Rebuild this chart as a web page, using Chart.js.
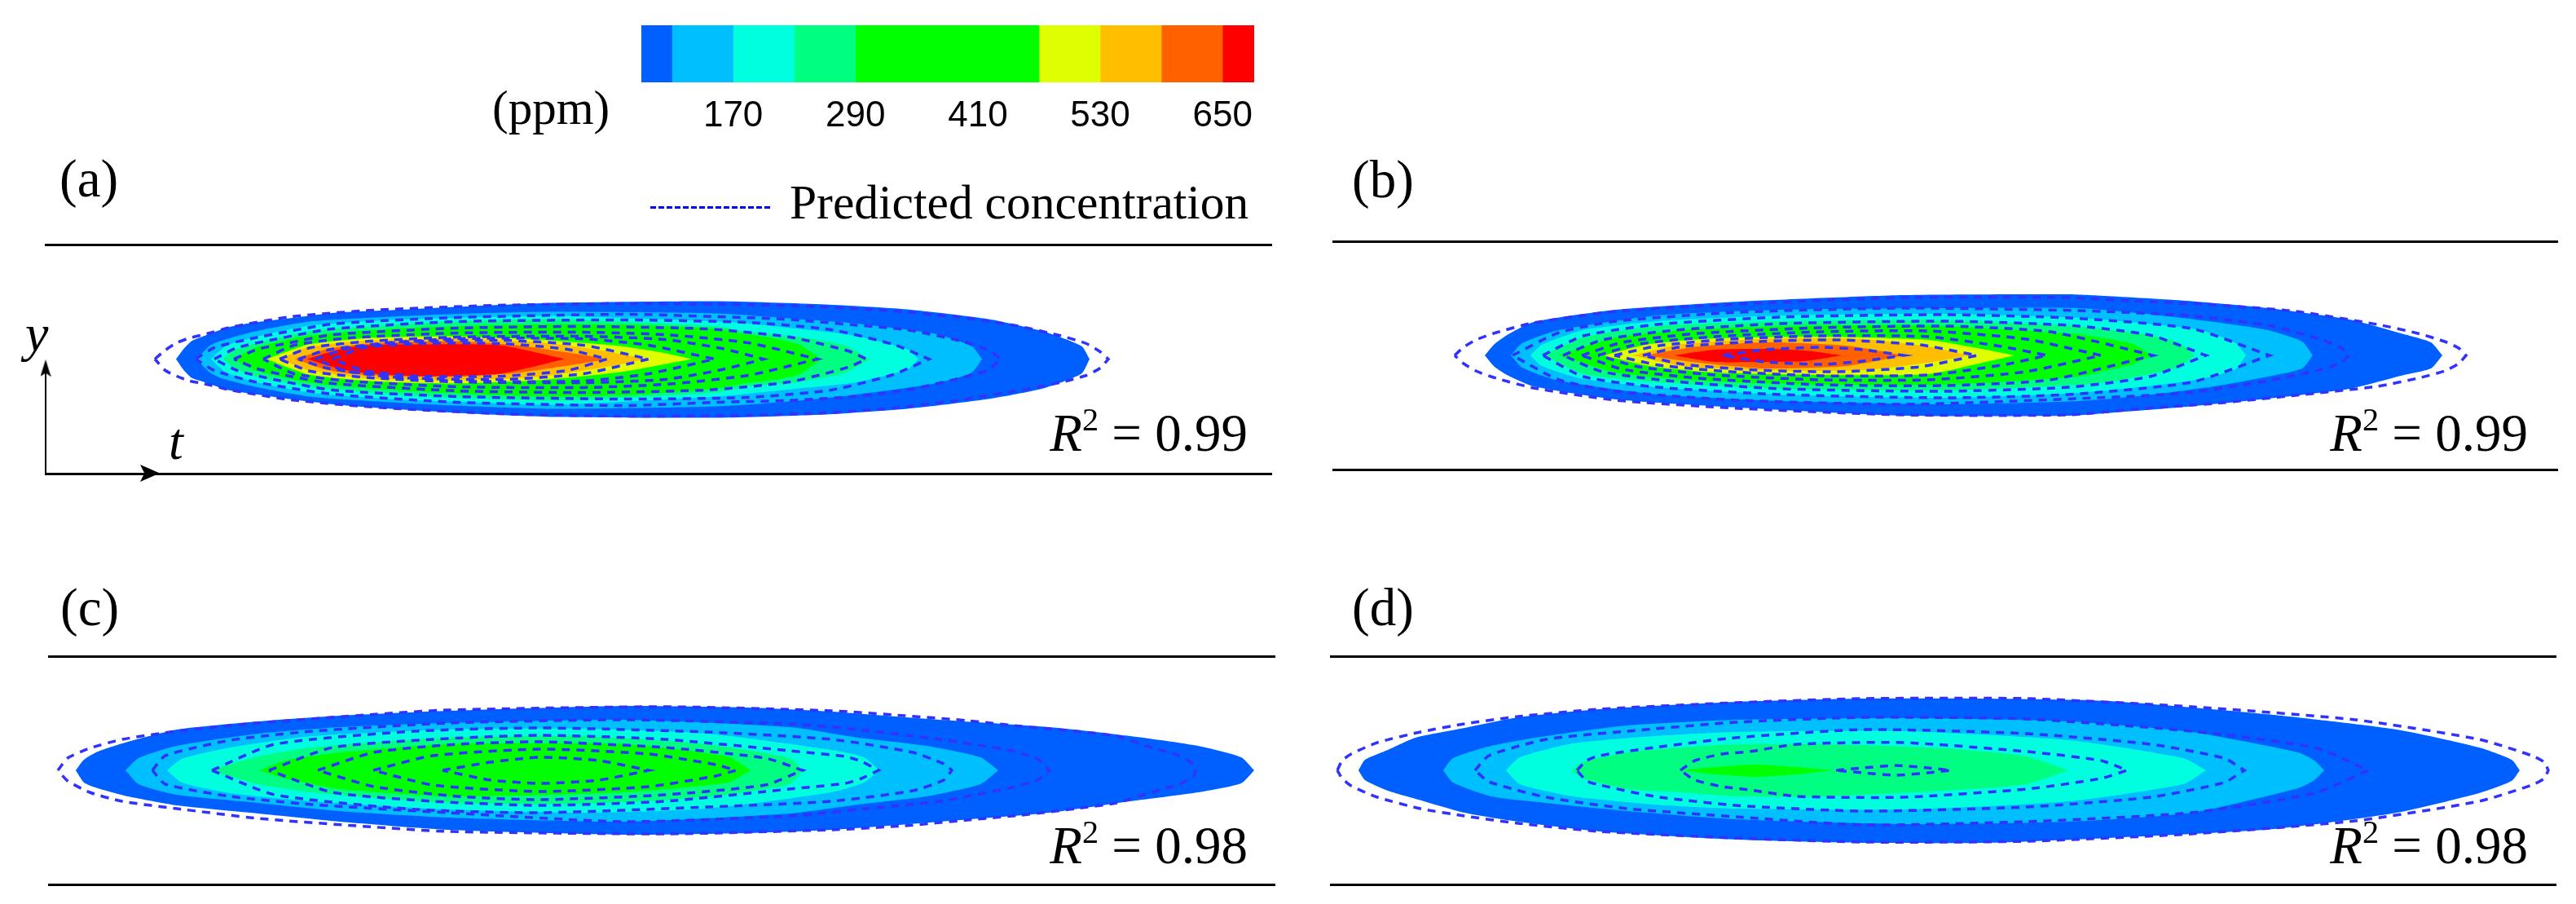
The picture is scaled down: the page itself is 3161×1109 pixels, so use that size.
<!DOCTYPE html>
<html>
<head>
<meta charset="utf-8">
<title>Predicted concentration</title>
<script src="https://cdn.jsdelivr.net/npm/chart.js@4"></script>
<style>
  html, body { margin: 0; background: #fff; }
  #page { position: relative; width: 3161px; height: 1109px; overflow: hidden; }
  canvas { position: absolute; }
  .lbl { position: absolute; font-family: "Liberation Serif", serif; line-height: 1; color: #000; white-space: nowrap; }
  .lbl i { font-style: italic; }
  .lbl sup { font-size: .62em; line-height: 0; vertical-align: .62em; }
  #legendDash { position: absolute; left: 798px; top: 253px; width: 148px; height: 3px;
    background: repeating-linear-gradient(90deg, #0000ff 0 7px, transparent 7px 10px); }
</style>
</head>
<body>
<div id="page">
  <canvas id="bar" style="left:747px;top:21px" width="832" height="150"></canvas>
  <canvas id="pa"></canvas><canvas id="pb"></canvas><canvas id="pc"></canvas><canvas id="pd"></canvas>

  <div class="lbl" style="left:604px;top:103px;font-size:59px">(ppm)</div>
  <div class="lbl" style="left:73px;top:187px;font-size:65px">(a)</div>
  <div class="lbl" style="left:1659px;top:188px;font-size:65px">(b)</div>
  <div class="lbl" style="left:74px;top:713px;font-size:65px">(c)</div>
  <div class="lbl" style="left:1659px;top:713px;font-size:65px">(d)</div>
  <div id="legendDash"></div>
  <div class="lbl" style="left:969px;top:219px;font-size:59.5px">Predicted concentration</div>
  <div class="lbl" style="right:1630px;top:499px;font-size:65px"><i>R</i><sup>2</sup> = 0.99</div>
  <div class="lbl" style="right:59px;top:499px;font-size:65px"><i>R</i><sup>2</sup> = 0.99</div>
  <div class="lbl" style="right:1630px;top:1005px;font-size:65px"><i>R</i><sup>2</sup> = 0.98</div>
  <div class="lbl" style="right:59px;top:1005px;font-size:65px"><i>R</i><sup>2</sup> = 0.98</div>
  <div class="lbl" style="left:31px;top:377px;font-size:64px"><i>y</i></div>
  <div class="lbl" style="left:207px;top:510px;font-size:64px"><i>t</i></div>
</div>

<script>
// colour bar (ppm)
const barEdges  = [80, 110, 170, 230, 290, 470, 530, 590, 650, 681];
const barColors = ["#0060ff", "#00bfff", "#00ffdf", "#00ff80", "#00ff00", "#dfff00", "#ffbf00", "#ff6000", "#ff0000"];
const barTicks  = [170, 290, 410, 530, 650];

// contours: [t stations, upper edge, lower edge], t along the plume, y off the centre line
// panel (a), measured fields
const aFill1 = [[160,169,179,191,224,257,291,357,424,524,624,824,957,1057,1157,1224,1271,1281], [0,12,22,27,39,45,49,57,60,65,69,71,67,61,49,34,16,0], [0,-13,-23,-27,-38,-43,-48,-56,-61,-67,-71,-72,-68,-61,-49,-36,-18,0]];
const aFill2 = [[185,201,214,257,324,424,524,624,824,924,991,1091,1136,1149], [0,16,22,34,46,52,56,58,56,49,44,31,16,0], [0,-16,-23,-34,-46,-53,-58,-61,-58,-51,-44,-30,-17,0]];
const aFill3 = [[203,221,257,324,424,524,624,824,857,924,991,1057,1071], [0,16,27,41,48,51,53,46,44,37,29,12,0], [0,-16,-28,-41,-49,-53,-56,-46,-43,-36,-29,-13,0]];
const aFill4 = [[218,231,257,324,424,524,624,824,857,924,981,1011], [0,11,19,34,42,47,49,40,34,27,17,0], [0,-11,-21,-34,-43,-48,-51,-41,-34,-28,-17,0]];
const aFill5 = [[231,257,324,424,524,624,724,824,857,891,924,952], [0,14,29,37,41,43,42,37,31,26,18,0], [0,-14,-29,-38,-43,-46,-44,-36,-30,-26,-19,0]];
const aFill6 = [[271,323,399,501,603,705,756,793], [0,18,26,28,24,16,8,0], [0,-19,-27,-30,-26,-16,-7,0]];
const aFill7 = [[287,323,399,501,603,680,738], [0,15,23,25,21,11,0], [0,-14,-24,-26,-22,-11,0]];
const aFill8 = [[306,348,399,501,578,654,690], [0,13,19,22,17,6,0], [0,-14,-20,-22,-17,-6,0]];
const aFill9 = [[321,357,391,457,557,637], [0,11,17,18,17,0], [0,-11,-17,-21,-18,0]];
// panel (a), predicted
const aLine1 = [[134,147,161,177,194,227,301,403,556,709,857,957,1041,1124,1191,1244,1277,1294,1304], [0,11,20,26,30,39,52,60,66,68,67,64,59,51,41,29,19,9,0], [0,-14,-21,-27,-30,-38,-50,-59,-67,-70,-69,-66,-60,-50,-39,-29,-20,-11,0]];
const aLine2 = [[184,207,257,352,505,709,824,907,991,1057,1124,1157,1172], [0,14,26,43,51,55,52,49,42,36,22,11,0], [0,-14,-28,-43,-53,-57,-53,-51,-46,-38,-23,-13,0]];
const aLine3 = [[207,235,280,352,505,709,862,964,1040,1084], [0,14,24,37,46,48,45,36,18,0], [0,-14,-25,-38,-46,-49,-47,-38,-19,0]];
const aLine4 = [[231,260,300,352,505,658,811,913,985,1007], [0,12,20,30,38,40,37,27,10,0], [0,-12,-21,-30,-39,-41,-38,-28,-10,0]];
const aLine5 = [[267,305,373,505,658,760,862,947], [0,17,26,32,33,30,20,0], [0,-18,-27,-34,-35,-31,-20,0]];
const aLine6 = [[287,325,399,505,658,760,830,881], [0,14,22,27,28,24,13,0], [0,-15,-23,-28,-29,-25,-13,0]];
const aLine7 = [[310,345,420,505,658,740,821], [0,11,20,25,25,17,0], [0,-11,-21,-27,-27,-18,0]];
const aLine8 = [[331,370,440,560,660,740], [0,13,21,23,17,0], [0,-15,-23,-25,-18,0]];
const aLine9 = [[352,390,460,560,640,689], [0,14,19,19,12,0], [0,-14,-21,-21,-14,0]];

// panel (b)
const bFill1 = [[186,198,215,246,347,498,700,902,947,1047,1147,1247,1314,1347,1361], [0,14,26,41,56,66,74,75,73,67,58,44,26,16,0], [0,-14,-25,-38,-54,-64,-74,-74,-71,-63,-53,-41,-24,-16,0]];
const bFill2 = [[218,232,277,398,549,750,914,997,1081,1147,1189,1202], [0,15,31,49,56,58,58,51,41,31,17,0], [0,-15,-31,-48,-56,-60,-56,-49,-38,-26,-16,0]];
const bFill3 = [[242,256,307,398,549,750,914,997,1064,1107,1120], [0,13,31,42,49,51,46,39,31,15,0], [0,-13,-29,-39,-48,-52,-46,-38,-29,-17,0]];
const bFill4 = [[258,307,398,549,750,914,947,997,1037,1057], [0,22,36,42,43,36,32,26,16,0], [0,-23,-33,-41,-43,-36,-33,-24,-14,0]];
const bFill5 = [[277,347,448,599,750,914,947,981,1004], [0,22,32,37,36,26,21,14,0], [0,-21,-31,-36,-36,-26,-19,-11,0]];
const bFill6 = [[332,388,468,599,730,801,836], [0,14,21,23,19,7,0], [0,-13,-21,-24,-23,-8,0]];
const bFill7 = [[367,428,549,650,730,781], [0,14,21,20,11,0], [0,-13,-19,-18,-9,0]];
const bFill8 = [[382,448,529,630,700], [0,11,16,12,0], [0,-9,-16,-13,0]];
const bFill9 = [[418,468,529,579,624], [0,7,8,6,0], [0,-8,-8,-7,0]];
const bLine1 = [[149,160,175,200,246,347,498,700,902,981,1081,1181,1281,1331,1364,1381,1390], [0,10,19,28,40,54,63,71,71,67,62,54,38,27,17,9,0], [0,-10,-19,-28,-40,-55,-65,-73,-73,-66,-59,-49,-38,-28,-19,-10,0]];
const bLine2 = [[220,277,347,498,700,914,1047,1147,1214,1237,1246], [0,28,42,53,58,55,49,37,19,9,0], [0,-30,-44,-55,-60,-53,-46,-31,-17,-9,0]];
const bLine3 = [[257,307,398,549,750,902,1053,1149], [0,24,38,47,50,46,33,0], [0,-26,-39,-48,-52,-48,-33,0]];
const bLine4 = [[282,330,420,549,750,902,1002,1071], [0,19,31,39,42,37,25,0], [0,-20,-32,-41,-44,-39,-26,0]];
const bLine5 = [[305,355,448,599,750,880,1006], [0,16,27,34,36,29,0], [0,-17,-28,-36,-37,-30,0]];
const bLine6 = [[325,375,468,599,730,850,942], [0,14,23,29,30,20,0], [0,-14,-24,-30,-30,-20,0]];
const bLine7 = [[345,400,488,599,730,820,876], [0,12,20,24,23,11,0], [0,-12,-20,-25,-24,-12,0]];
const bLine8 = [[380,430,520,620,720,790], [0,11,17,19,13,0], [0,-11,-18,-20,-14,0]];
const bLine9 = [[478,529,600,650,700], [0,7,10,7,0], [0,-8,-11,-7,0]];

// panel (c)
const cFill1 = [[33,43,60,97,157,257,357,490,705,858,960,1093,1227,1327,1410,1463,1479], [0,13,23,35,50,60,67,73,79,77,72,62,53,42,30,16,0], [0,-15,-22,-32,-43,-53,-63,-73,-79,-77,-73,-63,-52,-38,-27,-16,0]];
const cFill2 = [[94,110,157,257,357,490,705,909,993,1077,1143,1165], [0,15,30,45,53,58,62,53,40,30,16,0], [0,-17,-30,-40,-50,-58,-63,-53,-42,-32,-17,0]];
const cFill3 = [[145,163,223,323,490,654,807,960,1000,1019], [0,14,28,42,50,51,45,25,16,0], [0,-15,-28,-38,-48,-52,-47,-27,-15,0]];
const cFill4 = [[198,257,323,490,654,807,909,925], [0,17,28,40,42,32,15,0], [0,-17,-27,-40,-41,-33,-17,0]];
const cFill5 = [[258,290,357,490,705,833,861], [0,12,22,32,32,17,0], [0,-10,-23,-32,-27,-15,0]];
const cLine1 = [[11,23,50,90,157,257,390,490,756,960,1050,1127,1193,1260,1310,1353,1387,1405,1407], [0,15,27,38,48,58,68,74,78,73,67,61,54,48,42,28,18,7,0], [0,-13,-27,-38,-47,-59,-69,-75,-78,-73,-68,-61,-55,-47,-40,-27,-17,-7,0]];
const cLine2 = [[127,143,223,323,490,705,909,993,1093,1177,1213,1228], [0,18,37,48,58,62,57,50,38,25,14,0], [0,-17,-32,-42,-52,-63,-56,-48,-38,-22,-12,0]];
const cLine3 = [[200,277,450,603,807,960,1060,1098,1108], [0,32,48,52,47,38,22,8,0], [0,-30,-48,-52,-45,-38,-25,-12,0]];
const cLine4 = [[270,348,471,603,756,909,977,997,1018], [0,28,38,43,38,24,17,11,0], [0,-27,-38,-43,-38,-23,-16,-10,0]];
const cLine5 = [[330,399,501,603,756,879,925], [0,22,32,35,28,15,0], [0,-20,-32,-36,-30,-18,0]];
const cLine6 = [[398,471,603,736,818,843], [0,18,26,20,7,0], [0,-18,-26,-20,-7,0]];
const cLine7 = [[483,542,603,675,736], [0,10,16,12,0], [0,-12,-16,-12,0]];

// panel (d)
const dFill1 = [[34,42,70,104,164,230,330,497,653,804,955,1157,1308,1409,1449,1459], [0,13,25,40,52,65,75,84,88,88,85,68,50,28,13,0], [0,-12,-25,-35,-52,-63,-75,-85,-89,-89,-83,-72,-52,-28,-13,0]];
const dFill2 = [[138,150,197,264,364,497,703,905,1056,1187,1207,1219], [0,15,30,42,55,62,64,60,47,22,12,0], [0,-15,-32,-40,-50,-60,-66,-63,-52,-22,-12,0]];
const dFill3 = [[215,232,297,397,497,703,905,1046,1074], [0,16,33,42,47,48,37,15,0], [0,-17,-32,-42,-47,-48,-38,-17,0]];
const dFill4 = [[295,310,364,430,497,602,753,854,905], [0,10,22,28,32,32,27,17,0], [0,-10,-23,-27,-32,-32,-25,-17,0]];
const dFill5 = [[431,471,522,572,617], [0,4,7,4,0], [0,-5,-8,-5,0]];
const dLine1 = [[8,14,25,57,110,164,230,330,497,653,854,1056,1257,1409,1474,1489,1494], [0,12,20,34,47,57,66,75,83,88,88,78,62,38,18,10,0], [0,-10,-19,-33,-47,-56,-65,-75,-83,-88,-87,-78,-62,-38,-18,-10,0]];
const dLine2 = [[177,194,264,364,497,653,854,1056,1207,1273], [0,18,38,48,59,65,63,48,28,0], [0,-14,-33,-47,-57,-67,-63,-52,-28,0]];
const dLine3 = [[302,314,330,397,497,653,854,1006,1096,1121], [0,12,18,28,40,50,45,32,15,0], [0,-13,-18,-32,-43,-50,-45,-33,-15,0]];
const dLine4 = [[429,447,480,514,572,703,854,945,977], [0,12,20,23,32,34,23,12,0], [0,-12,-20,-24,-32,-33,-23,-10,0]];
const dLine5 = [[620,653,693,733,761], [0,3,6,3,0], [0,-3,-6,-3,0]];

// t and y axis arrows, panel (a)
const yArrowLine = [[0, -140], [0, -12]];
const yArrowTip  = [[0, -11]];
const tArrowTip  = [[128, -140]];

const dashColor = "#3232ff";

// upper edge left to right, lower edge back; the tip is doubled so it stays sharp
function outline(c) {
  const [t, up, lo] = c;
  const pts = t.map((v, i) => ({ x: v, y: up[i] }));
  pts.push({ x: t[t.length - 1], y: lo[t.length - 1] });
  for (let i = t.length - 2; i >= 0; i--) pts.push({ x: t[i], y: lo[i] });
  return pts;
}

// barbed arrow head, pointing up, used as a point style
function headStyle(w, h) {
  const c = document.createElement("canvas");
  c.width = w; c.height = h;
  const g = c.getContext("2d");
  g.fillStyle = "#000";
  g.beginPath();
  g.moveTo(w / 2, 0); g.lineTo(w, h); g.lineTo(w / 2, h * .78); g.lineTo(0, h);
  g.closePath(); g.fill();
  return c;
}

function panel(id, left, top, w, h, fills, lines, extra) {
  const pad = 16;
  const el = document.getElementById(id);
  el.width = w + pad * 2; el.height = h + pad * 2;
  el.style.left = (left - pad) + "px"; el.style.top = (top - pad) + "px";
  const ds = [];
  fills.forEach((c, i) => ds.push({ data: outline(c), showLine: true, fill: "shape", backgroundColor: barColors[i], borderWidth: 0, pointRadius: 0, tension: .2 }));
  lines.forEach((c) => ds.push({ data: outline(c), showLine: true, fill: false, borderColor: dashColor, borderWidth: 3.5, borderDash: [10, 8], pointRadius: 0, tension: .2 }));
  (extra || []).forEach((e) => ds.push(e));
  ds.forEach((d, i) => { d.order = -i; });
  const rule = { display: true, grid: { display: false, drawTicks: false }, ticks: { display: false }, border: { color: "#000", width: 3 } };
  new Chart(el, {
    type: "scatter",
    data: { datasets: ds },
    options: {
      responsive: false, animation: false, devicePixelRatio: 1,
      layout: { padding: pad },
      plugins: { legend: { display: false }, tooltip: { enabled: false } },
      scales: {
        x: { type: "linear", min: 0, max: w, position: "bottom", ...rule },
        xTop: { type: "linear", axis: "x", min: 0, max: w, position: "top", ...rule },
        y: { type: "linear", min: -h / 2, max: h / 2, display: false }
      }
    }
  });
}

function pts(list) { return list.map((p) => ({ x: p[0], y: p[1] })); }
const arrows = [
  { data: pts(yArrowLine), showLine: true, fill: false, borderColor: "#000", borderWidth: 2, pointRadius: 0, clip: false },
  { data: pts(yArrowTip), showLine: false, pointStyle: headStyle(13, 21), pointRadius: 10, clip: false },
  { data: pts(tArrowTip), showLine: false, pointStyle: headStyle(21, 24), pointRadius: 12, pointRotation: 90, clip: false }
];

panel("pa", 56, 300, 1504, 281, [aFill1, aFill2, aFill3, aFill4, aFill5, aFill6, aFill7, aFill8, aFill9],
  [aLine1, aLine2, aLine3, aLine4, aLine5, aLine6, aLine7, aLine8, aLine9], arrows);
panel("pb", 1636, 296, 1502, 280, [bFill1, bFill2, bFill3, bFill4, bFill5, bFill6, bFill7, bFill8, bFill9],
  [bLine1, bLine2, bLine3, bLine4, bLine5, bLine6, bLine7, bLine8, bLine9]);
panel("pc", 60, 805, 1504, 280, [cFill1, cFill2, cFill3, cFill4, cFill5],
  [cLine1, cLine2, cLine3, cLine4, cLine5, cLine6, cLine7]);
panel("pd", 1633, 805, 1503, 280, [dFill1, dFill2, dFill3, dFill4, dFill5],
  [dLine1, dLine2, dLine3, dLine4, dLine5]);

// colour bar: one floating bar per level
new Chart(document.getElementById("bar"), {
  type: "bar",
  data: {
    labels: ["ppm"],
    datasets: barColors.map((col, i) => ({ data: [[barEdges[i], barEdges[i + 1]]], backgroundColor: col, borderWidth: 0, grouped: false, barPercentage: 1, categoryPercentage: 1 }))
  },
  options: {
    indexAxis: "y", responsive: false, animation: false, devicePixelRatio: 1,
    layout: { padding: { left: 40, right: 40, top: 10, bottom: 0 } },
    plugins: { legend: { display: false }, tooltip: { enabled: false } },
    scales: {
      x: {
        type: "linear", min: barEdges[0], max: barEdges[barEdges.length - 1],
        afterBuildTicks: (ax) => { ax.ticks = barTicks.map((v) => ({ value: v })); },
        grid: { display: false, drawTicks: false }, border: { display: false },
        ticks: { color: "#000", font: { family: "Liberation Sans", size: 44 }, padding: 15, maxRotation: 0, autoSkip: false }
      },
      y: { display: false }
    }
  }
});
</script>
</body>
</html>
